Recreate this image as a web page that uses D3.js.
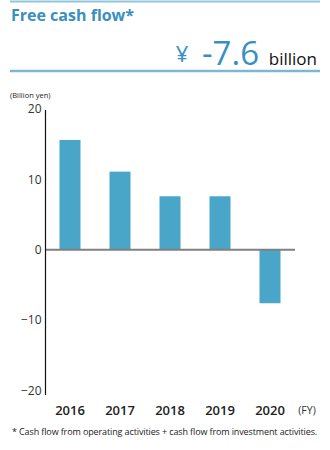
<!DOCTYPE html>
<html><head><meta charset="utf-8">
<script src="https://cdn.jsdelivr.net/npm/d3@7"></script>
<style>body{margin:0;background:#fff;}svg{display:block;}</style>
</head><body>
<script>
const years = ["2016","2017","2018","2019","2020"];
const values = [15.6, 11.1, 7.6, 7.6, -7.6];
const yTicks = [20, 10, 0, -10, -20];
const title = "Free cash flow*";
const headline = "-7.6";
const unitLabel = "(Billion yen)";
const fyLabel = "(FY)";
const footnote = "* Cash flow from operating activities + cash flow from investment activities.";

const W = 330, H = 450;
const svg = d3.select("body").append("svg").attr("width", W).attr("height", H);
const font = "'Open Sans', 'Noto Sans', sans-serif";
const blue = "#3a8fc1";

// header lines
svg.append("line").attr("x1",10).attr("x2",320).attr("y1",1.5).attr("y2",1.5)
  .attr("stroke","#8fc6dc").attr("stroke-width",2);
svg.append("line").attr("x1",10).attr("x2",320).attr("y1",71).attr("y2",71)
  .attr("stroke","#7fb6d2").attr("stroke-width",2.5);

svg.append("text").attr("x",11).attr("y",21).text(title)
  .attr("font-family",font).attr("font-weight",700).attr("font-size",16).attr("fill",blue);

svg.append("text").attr("x",317).attr("y",65).attr("text-anchor","end").text("billion")
  .attr("font-family",font).attr("font-size",17).attr("fill","#111");
svg.append("text").attr("x",259).attr("y",65).attr("text-anchor","end").text(headline)
  .attr("font-family",font).attr("font-weight",400).attr("font-size",33).attr("fill",blue);
svg.append("text").attr("x",182).attr("y",62).attr("text-anchor","middle").text("¥")
  .attr("font-family",font).attr("font-weight",400).attr("font-size",22).attr("fill",blue);

svg.append("text").attr("x",10).attr("y",98).text(unitLabel)
  .attr("font-family",font).attr("font-size",7.5).attr("fill","#222");

// scales
const y = d3.scaleLinear().domain([-20,20]).range([390.5,109]);
const x = d3.scaleBand().domain(years).range([45,295]).paddingInner(0.58).paddingOuter(0.29);

// bars
svg.append("g").selectAll("rect").data(values).join("rect")
  .attr("x",(d,i)=>x(years[i]))
  .attr("width",x.bandwidth())
  .attr("y",d=>y(Math.max(0,d)))
  .attr("height",d=>Math.abs(y(d)-y(0)))
  .attr("fill","#4aa6c9");

// zero line
svg.append("line").attr("x1",45).attr("x2",295).attr("y1",y(0)).attr("y2",y(0))
  .attr("stroke","#808080").attr("stroke-width",2);

// y axis
const yAxis = d3.axisLeft(y).tickValues(yTicks).tickSize(0).tickPadding(4);
const gy = svg.append("g").attr("transform","translate(45.5,0)").call(yAxis);
gy.select(".domain").remove();
gy.selectAll("text").attr("font-family",font).attr("font-size",12).attr("fill","#333");
svg.append("line").attr("x1",45.5).attr("x2",45.5).attr("y1",110).attr("y2",395)
  .attr("stroke","#111").attr("stroke-width",1.2);

// x axis labels
const xAxis = d3.axisBottom(x).tickSize(0).tickPadding(0);
const gx = svg.append("g").attr("transform","translate(0,403)").call(xAxis);
gx.select(".domain").remove();
gx.selectAll("text").attr("font-family",font).attr("font-size",13).attr("font-weight",600)
  .attr("fill","#222").attr("dy","0.9em");

svg.append("text").attr("x",307).attr("y",414).attr("text-anchor","middle").text(fyLabel)
  .attr("font-family",font).attr("font-size",10.5).attr("fill","#333");

svg.append("text").attr("x",12).attr("y",435).text(footnote)
  .attr("font-family",font).attr("font-size",9).attr("letter-spacing",-0.12).attr("fill","#222");
</script>
</body></html>
